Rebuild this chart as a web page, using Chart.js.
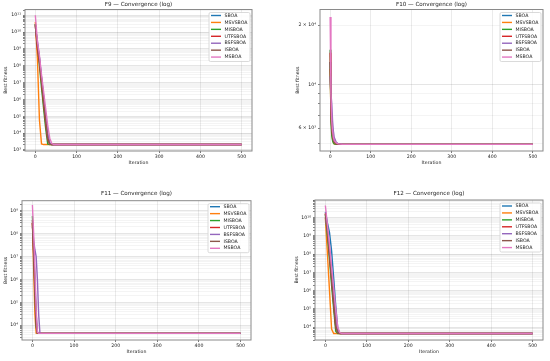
<!DOCTYPE html>
<html>
<head>
<meta charset="utf-8">
<script src="https://cdn.jsdelivr.net/npm/chart.js@4.4.1/dist/chart.umd.min.js"></script>
<style>
  body { margin: 0; background: #fff; }
  .painel { position: absolute; }
</style>
</head>
<body>
<div class="painel" style="left:0;top:0"><canvas id="f9" width="275" height="180"></canvas></div>
<div class="painel" style="left:275px;top:0"><canvas id="f10" width="275" height="180"></canvas></div>
<div class="painel" style="left:0;top:180px"><canvas id="f11" width="275" height="181"></canvas></div>
<div class="painel" style="left:275px;top:180px"><canvas id="f12" width="275" height="181"></canvas></div>
<script>
var algos = ["SBOA", "MSVSBOA", "MISBOA", "UTFSBOA", "BSFSBOA", "ISBOA", "MSBOA"];
var cores = ["#1f77b4", "#ff7f0e", "#2ca02c", "#d62728", "#9467bd", "#8c564b", "#e377c2"];
var xTicks = [0, 100, 200, 300, 400, 500];

// F9 - best fitness per iteration
var f9Iter     = [0, 5, 10, 15, 20, 25, 30, 35, 40, 45, 50, 500];
var f9SBOA     = [3e10, 2e9, 3e8, 2e7, 1.5e6, 1e5, 8e3, 2.5e3, 2.1e3, 2.1e3, 2.1e3, 2.1e3];
var f9MSVSBOA  = [4e10, 3e8, 6e4, 2.3e3, 2.1e3, 2.1e3, 2.1e3, 2.1e3, 2.1e3, 2.1e3, 2.1e3, 2.1e3];
var f9MISBOA   = [3e10, 2e9, 1e8, 5e6, 3e5, 2e4, 2.3e3, 2.1e3, 2.1e3, 2.1e3, 2.1e3, 2.1e3];
var f9UTFSBOA  = [2.5e10, 1e9, 1.5e8, 1e7, 6e5, 4e4, 4e3, 2.2e3, 2.1e3, 2.1e3, 2.1e3, 2.1e3];
var f9BSFSBOA  = [2e10, 3e9, 3e8, 2e7, 1.5e6, 1e5, 8e3, 2.5e3, 2.1e3, 2.1e3, 2.1e3, 2.1e3];
var f9ISBOA    = [3e10, 1.5e9, 2e8, 1.5e7, 1e6, 6e4, 5e3, 2.2e3, 2.1e3, 2.1e3, 2.1e3, 2.1e3];
var f9MSBOA    = [1e11, 3e9, 4e8, 3e7, 3e6, 3e5, 3e4, 5e3, 2.4e3, 2.1e3, 2.1e3, 2.1e3];
var f9YTicks   = [1e3, 1e4, 1e5, 1e6, 1e7, 1e8, 1e9, 1e10, 1e11];
var f9YLabels  = ["10³", "10⁴", "10⁵", "10⁶", "10⁷", "10⁸", "10⁹", "10¹⁰", "10¹¹"];

// F10
var f10Iter    = [0, 2, 4, 6, 8, 10, 15, 20, 30, 500];
var f10SBOA    = [1.3e4, 8e3, 6.5e3, 5.8e3, 5.4e3, 5.2e3, 5.05e3, 5.0e3, 4.98e3, 4.97e3];
var f10MSVSBOA = [1.2e4, 7e3, 5.8e3, 5.3e3, 5.1e3, 5.0e3, 4.98e3, 4.97e3, 4.97e3, 4.97e3];
var f10MISBOA  = [1.5e4, 6.5e3, 5.5e3, 5.2e3, 5.05e3, 5.0e3, 4.98e3, 4.97e3, 4.97e3, 4.97e3];
var f10UTFSBOA = [1.45e4, 7.5e3, 6e3, 5.5e3, 5.25e3, 5.1e3, 5.0e3, 4.98e3, 4.97e3, 4.97e3];
var f10BSFSBOA = [1.1e4, 9e3, 8e3, 6.5e3, 5.8e3, 5.4e3, 5.1e3, 5.0e3, 4.98e3, 4.97e3];
var f10ISBOA   = [1.3e4, 7.5e3, 6e3, 5.5e3, 5.2e3, 5.1e3, 5.0e3, 4.98e3, 4.97e3, 4.97e3];
var f10MSBOA   = [2.2e4, 9e3, 6.5e3, 5.8e3, 5.4e3, 5.2e3, 5.05e3, 5.0e3, 4.98e3, 4.97e3];
var f10YTicks  = [6e3, 1e4, 2e4];
var f10YLabels = ["6 × 10³", "10⁴", "2 × 10⁴"];

// F11
var f11Iter    = [0, 3, 6, 9, 12, 15, 18, 21, 25, 500];
var f11SBOA    = [3e8, 2e7, 1e6, 3e4, 5e3, 4.5e3, 4.4e3, 4.4e3, 4.4e3, 4.4e3];
var f11MSVSBOA = [3e8, 3e6, 3e4, 4.5e3, 4.4e3, 4.4e3, 4.4e3, 4.4e3, 4.4e3, 4.4e3];
var f11MISBOA  = [6e8, 2e7, 4e5, 1e4, 4.5e3, 4.4e3, 4.4e3, 4.4e3, 4.4e3, 4.4e3];
var f11UTFSBOA = [3e8, 1.5e7, 5e5, 1.5e4, 4.6e3, 4.4e3, 4.4e3, 4.4e3, 4.4e3, 4.4e3];
var f11BSFSBOA = [2e8, 5e7, 2e7, 1e7, 1e6, 3e4, 4.6e3, 4.4e3, 4.4e3, 4.4e3];
var f11ISBOA   = [4e8, 1e7, 2e5, 8e3, 4.5e3, 4.4e3, 4.4e3, 4.4e3, 4.4e3, 4.4e3];
var f11MSBOA   = [1.8e9, 1e8, 3e6, 5e4, 5e3, 4.4e3, 4.4e3, 4.4e3, 4.4e3, 4.4e3];
var f11YTicks  = [1e4, 1e5, 1e6, 1e7, 1e8, 1e9];
var f11YLabels = ["10⁴", "10⁵", "10⁶", "10⁷", "10⁸", "10⁹"];

// F12
var f12Iter    = [0, 5, 10, 15, 20, 25, 30, 35, 40, 45, 500];
var f12SBOA    = [2e10, 5e9, 1.5e9, 1.5e8, 5e6, 1.5e5, 8e3, 4.6e3, 4.5e3, 4.5e3, 4.5e3];
var f12MSVSBOA = [1e10, 1e8, 1e6, 8e3, 4.5e3, 4.5e3, 4.5e3, 4.5e3, 4.5e3, 4.5e3, 4.5e3];
var f12MISBOA  = [1.5e10, 1e9, 5e7, 2e6, 1e5, 6e3, 4.5e3, 4.5e3, 4.5e3, 4.5e3, 4.5e3];
var f12UTFSBOA = [1.7e10, 2e9, 1e8, 5e6, 2e5, 1e4, 5e3, 4.5e3, 4.5e3, 4.5e3, 4.5e3];
var f12BSFSBOA = [1e10, 2e9, 2e8, 1e7, 5e5, 3e4, 6e3, 4.6e3, 4.5e3, 4.5e3, 4.5e3];
var f12ISBOA   = [1.5e10, 1.5e9, 8e7, 4e6, 2e5, 1.2e4, 5e3, 4.5e3, 4.5e3, 4.5e3, 4.5e3];
var f12MSBOA   = [4.5e10, 4e9, 3e8, 2e7, 1.5e6, 1e5, 1e4, 5e3, 4.5e3, 4.5e3, 4.5e3];
var f12YTicks  = [1e4, 1e5, 1e6, 1e7, 1e8, 1e9, 1e10];
var f12YLabels = ["10⁴", "10⁵", "10⁶", "10⁷", "10⁸", "10⁹", "10¹⁰"];

Chart.defaults.font.family = "'DejaVu Sans'";
Chart.defaults.color = "#222";

// titulo, moldura e legenda estilo matplotlib
var moldura = {
  id: "moldura",
  afterDatasetsDraw: function (chart, args, opts) {
    var ctx = chart.ctx, a = chart.chartArea;
    ctx.save();
    ctx.strokeStyle = "#8a8a8a";
    ctx.lineWidth = 1;
    ctx.strokeRect(a.left, a.top, a.right - a.left, a.bottom - a.top);

    ctx.font = "4.67px 'DejaVu Sans'";
    var maxW = 0;
    algos.forEach(function (n) { maxW = Math.max(maxW, ctx.measureText(n).width); });
    var w = 2 + 10 + 3.5 + maxW + 2.5, h = 49;
    var x0 = a.right - 2 - w, y0 = a.top + 3;
    ctx.fillStyle = "rgba(255,255,255,0.9)";
    ctx.strokeStyle = "#d0d0d0";
    ctx.lineWidth = 0.8;
    ctx.beginPath();
    ctx.roundRect(x0, y0, w, h, 1.5);
    ctx.fill();
    ctx.stroke();
    ctx.textBaseline = "middle";
    ctx.textAlign = "left";
    algos.forEach(function (n, i) {
      var yy = y0 + 3 + i * 6.93;
      ctx.strokeStyle = cores[i];
      ctx.lineWidth = 1.4;
      ctx.beginPath();
      ctx.moveTo(x0 + 2, yy);
      ctx.lineTo(x0 + 12, yy);
      ctx.stroke();
      ctx.fillStyle = "#222";
      ctx.fillText(n, x0 + 15.5, yy);
    });

    ctx.font = "5.6px 'DejaVu Sans'";
    ctx.textAlign = "center";
    ctx.fillText(opts.titulo, (a.left + a.right) / 2, opts.tituloY);
    ctx.restore();
  }
};

function gradeLog(min, max) {
  var out = [];
  for (var k = Math.floor(Math.log10(min)); k <= Math.ceil(Math.log10(max)); k++) {
    for (var m = 1; m <= 9; m++) {
      var v = m * Math.pow(10, k);
      if (v >= min && v <= max) out.push({ value: v, grande: m === 1 });
    }
  }
  return out;
}

function desenha(id, titulo, iter, series, yMin, yMax, yTicks, yLabels, lay) {
  var ctx = document.getElementById(id).getContext("2d");
  var datasets = series.map(function (vals, i) {
    return {
      label: algos[i],
      data: iter.map(function (x, j) { return { x: x, y: vals[j] }; }),
      borderColor: cores[i],
      backgroundColor: cores[i],
      borderWidth: 1.4,
      pointRadius: 0,
      tension: 0,
      order: series.length - 1 - i
    };
  });
  var altura = ctx.canvas.height;
  new Chart(ctx, {
    type: "line",
    data: { datasets: datasets },
    plugins: [moldura],
    options: {
      responsive: false,
      animation: false,
      devicePixelRatio: 1,
      layout: { padding: { top: lay.top, left: 0, right: 275 - lay.right, bottom: 0 } },
      plugins: {
        legend: { display: false },
        title: { display: false },
        tooltip: { enabled: false },
        moldura: { titulo: titulo, tituloY: lay.tituloY }
      },
      scales: {
        x: {
          type: "linear",
          min: -25,
          max: 525,
          afterBuildTicks: function (s) { s.ticks = xTicks.map(function (v) { return { value: v }; }); },
          afterFit: function (s) { s.height = altura - lay.bottom; },
          border: { display: false },
          grid: { color: "rgba(0,0,0,0.1)", tickColor: "#555", tickLength: 2, lineWidth: 0.8 },
          ticks: { font: { size: 4.67 }, padding: 1, maxRotation: 0, autoSkip: false },
          title: { display: true, text: "Iteration", font: { size: 4.67 }, padding: { top: 0, bottom: altura - lay.xLabY - 2.8 } }
        },
        y: {
          type: "logarithmic",
          min: yMin,
          max: yMax,
          afterBuildTicks: function (s) { s.ticks = gradeLog(yMin, yMax); },
          afterFit: function (s) { s.width = lay.left; },
          border: { display: false },
          grid: {
            color: function (c) { return c.tick && c.tick.grande ? "rgba(0,0,0,0.13)" : "rgba(0,0,0,0.06)"; },
            tickColor: "#666",
            tickLength: 2,
            lineWidth: 0.8
          },
          ticks: {
            font: { size: 4.67 },
            padding: 2,
            autoSkip: false,
            callback: function (v) {
              var k = yTicks.indexOf(v);
              return k >= 0 ? yLabels[k] : "";
            }
          },
          title: { display: true, text: "Best fitness", font: { size: 4.67 }, padding: { top: lay.yLabX - 2.8, bottom: 0 } }
        }
      }
    }
  });
}

desenha("f9", "F9 — Convergence (log)", f9Iter,
  [f9SBOA, f9MSVSBOA, f9MISBOA, f9UTFSBOA, f9BSFSBOA, f9ISBOA, f9MSBOA],
  870, 2.2e11, f9YTicks, f9YLabels,
  { left: 25, right: 252, top: 9.5, bottom: 151, tituloY: 5, yLabX: 6, xLabY: 162.7 });

desenha("f10", "F10 — Convergence (log)", f10Iter,
  [f10SBOA, f10MSVSBOA, f10MISBOA, f10UTFSBOA, f10BSFSBOA, f10ISBOA, f10MSBOA],
  4600, 24000, f10YTicks, f10YLabels,
  { left: 45, right: 268, top: 9.5, bottom: 151, tituloY: 5, yLabX: 22.3, xLabY: 162.7 });

desenha("f11", "F11 — Convergence (log)", f11Iter,
  [f11SBOA, f11MSVSBOA, f11MISBOA, f11UTFSBOA, f11BSFSBOA, f11ISBOA, f11MSBOA],
  2250, 2.8e9, f11YTicks, f11YLabels,
  { left: 22, right: 251, top: 20.7, bottom: 160, tituloY: 14, yLabX: 6, xLabY: 171.7 });

desenha("f12", "F12 — Convergence (log)", f12Iter,
  [f12SBOA, f12MSVSBOA, f12MISBOA, f12UTFSBOA, f12BSFSBOA, f12ISBOA, f12MSBOA],
  2000, 9e10, f12YTicks, f12YLabels,
  { left: 40, right: 268, top: 20, bottom: 160, tituloY: 14, yLabX: 21.7, xLabY: 171.7 });
</script>
</body>
</html>
